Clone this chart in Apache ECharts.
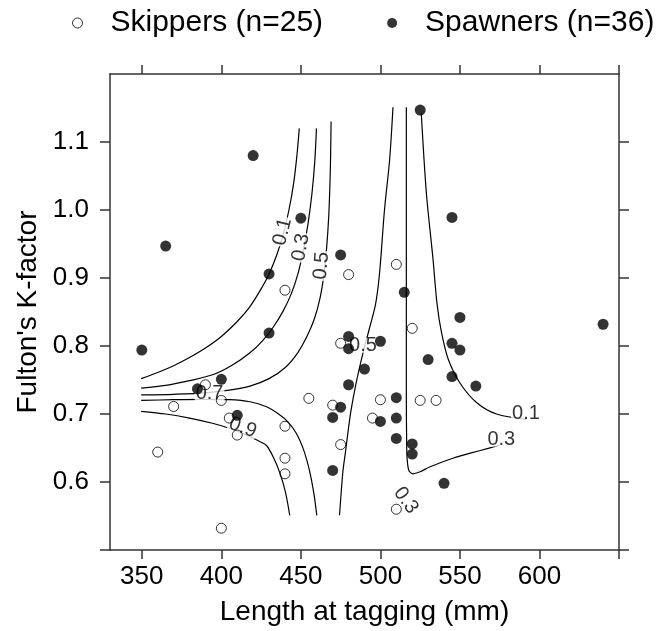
<!DOCTYPE html>
<html>
<head>
<meta charset="utf-8">
<script src="https://cdn.jsdelivr.net/npm/echarts@6/dist/echarts.min.js"></script>
<style>
  html, body { margin: 0; padding: 0; background: #fff; }
  #chart { width: 657px; height: 631px; }
</style>
</head>
<body>
<div id="chart"></div>
<script>
// Axis ticks and labelled values
const xTicks = [350, 400, 450, 500, 550, 600, 650];
const xLabels = [350, 400, 450, 500, 550, 600];
const yTicks = [0.5, 0.6, 0.7, 0.8, 0.9, 1.0, 1.1];
const yLabels = [0.6, 0.7, 0.8, 0.9, 1.0, 1.1];

// Fish measurements: [length at tagging (mm), Fulton's K]
const skippers = [
  [440, 0.882], [480, 0.905], [510, 0.920], [475, 0.804], [390, 0.743],
  [400, 0.720], [370, 0.711], [455, 0.723], [470, 0.713], [500, 0.721],
  [495, 0.694], [405, 0.694], [410, 0.669], [440, 0.682], [440, 0.635],
  [440, 0.612], [360, 0.644], [475, 0.655], [400, 0.532], [520, 0.826],
  [525, 0.720], [535, 0.720], [510, 0.560]
];
const spawners = [
  [420, 1.080], [365, 0.947], [450, 0.988], [430, 0.906], [475, 0.934],
  [525, 1.147], [545, 0.989], [515, 0.879], [430, 0.819], [350, 0.794],
  [480, 0.814], [480, 0.796], [500, 0.807], [490, 0.766], [480, 0.743],
  [400, 0.751], [385, 0.737], [475, 0.710], [470, 0.695], [500, 0.689],
  [410, 0.698], [470, 0.617], [550, 0.842], [640, 0.832], [545, 0.804],
  [550, 0.794], [530, 0.780], [545, 0.755], [560, 0.741], [510, 0.724],
  [510, 0.694], [510, 0.664], [520, 0.656], [520, 0.641], [540, 0.598]
];

// Probability contour traces (probability of skipping)
const contour01Left = [[349.6,0.752],[360,0.761],[370,0.771],[380,0.783],[390,0.797],[400,0.814],[410,0.836],[418,0.858],[425,0.884],[430,0.906],[435,0.935],[439,0.965],[442.5,1.0],[445.5,1.04],[447.5,1.08],[449,1.12]];
const contour03Left = [[349.6,0.738],[365,0.742],[380,0.749],[395,0.758],[407,0.772],[418,0.79],[426,0.808],[433,0.829],[439,0.852],[444,0.877],[448,0.905],[451.5,0.94],[454.5,0.98],[457,1.025],[458.7,1.07],[459.8,1.12]];
const contour05Left = [[349.6,0.728],[370,0.729],[390,0.731],[405,0.735],[418,0.741],[430,0.752],[440,0.768],[448,0.79],[454,0.815],[458.5,0.84],[462,0.87],[464.5,0.905],[466.2,0.945],[467.5,0.99],[468.3,1.04],[468.7,1.08],[469,1.13]];
const contour07 = [[349.6,0.720],[370,0.721],[390,0.7215],[405,0.721],[418,0.718],[428,0.711],[436,0.700],[442,0.688],[447,0.672],[451,0.652],[454,0.630],[456.5,0.605],[458.5,0.578],[460,0.551]];
const contour09 = [[349.6,0.704],[365,0.700],[380,0.694],[395,0.686],[405,0.679],[415,0.670],[422,0.662],[428.2,0.654],[433,0.635],[437,0.612],[440.3,0.585],[443,0.551]];
const contour05Mid = [[507.9,1.151],[505.8,1.074],[502.6,1.001],[499.5,0.908],[497,0.862],[493,0.825],[489,0.789],[484.8,0.746],[481.5,0.705],[479.6,0.673],[477.8,0.640],[476.4,0.615],[474.3,0.551]];
const contour03Right = [[516.3,1.151],[516.3,1.0],[516.3,0.854],[516.3,0.722],[516.5,0.66],[516.8,0.634],[517.9,0.617],[520.4,0.612],[525,0.615],[530.9,0.622],[545.6,0.635],[562.3,0.646],[574.9,0.654]];
const contour01Right = [[525.7,1.142],[528.9,1.025],[533.1,0.927],[535.6,0.862],[538.4,0.820],[542.6,0.781],[549.9,0.746],[560.4,0.717],[573.0,0.700],[591.8,0.692]];

// Contour label anchors: [x, y, text, rotation]
const contourLabels = [
  [438.5, 0.968, '0.1', 76], [450, 0.945, '0.3', 79], [463, 0.918, '0.5', 85],
  [489, 0.801, '0.5', 0], [392.6, 0.730, '0.7', 0], [413.5, 0.680, '0.9', -20],
  [591.5, 0.701, '0.1', 0], [576, 0.663, '0.3', 0], [516, 0.573, '0.3', -55]
];

const FONT = 'Liberation Sans, Arial, sans-serif';
const AXIS_COLOR = '#333';

function contourSeries(data) {
  return {
    type: 'line', data: data, smooth: 0.3, showSymbol: false, silent: true,
    lineStyle: { color: '#000', width: 1.2 }, z: 2
  };
}

const chart = echarts.init(document.getElementById('chart'), null, { renderer: 'canvas' });

const axisLine = { show: true, lineStyle: { color: AXIS_COLOR, width: 1.5 } };
const tickStyle = { color: AXIS_COLOR, width: 1.5 };

chart.setOption({
  animation: false,
  backgroundColor: '#fff',
  textStyle: { fontFamily: FONT },
  grid: { left: 110, top: 74, width: 509, height: 477, show: false },
  legend: {
    left: 72, top: 8, padding: 0, itemGap: 64, itemWidth: 10, itemHeight: 10,
    formatter: n => '{t|' + n + '}',
    textStyle: { rich: { t: { fontSize: 30, fontFamily: FONT, color: '#000', padding: [0, 0, 0, 23] } } },
    data: [
      { name: 'Skippers (n=25)', icon: 'circle', itemStyle: { color: '#fff', borderColor: '#000', borderWidth: 1 } },
      { name: 'Spawners (n=36)', icon: 'circle', itemStyle: { color: '#000' } }
    ]
  },
  xAxis: [
    {
      type: 'value', min: 330, max: 650, position: 'bottom',
      axisLine: axisLine, splitLine: { show: false },
      name: 'Length at tagging (mm)', nameLocation: 'middle', nameGap: 48,
      nameTextStyle: { fontSize: 28, color: '#000', fontFamily: FONT },
      axisTick: { show: true, inside: false, length: 9, customValues: xTicks, lineStyle: tickStyle },
      axisLabel: { show: true, customValues: xLabels, fontSize: 26, color: '#000', margin: 14, fontFamily: FONT }
    },
    {
      type: 'value', min: 330, max: 650, position: 'top',
      axisLine: axisLine, splitLine: { show: false },
      axisTick: { show: true, inside: false, length: 9, customValues: xTicks, lineStyle: tickStyle },
      axisLabel: { show: false }
    }
  ],
  yAxis: [
    {
      type: 'value', min: 0.5, max: 1.2, position: 'left',
      axisLine: axisLine, splitLine: { show: false },
      name: "Fulton's K-factor", nameLocation: 'middle', nameGap: 68,
      nameTextStyle: { fontSize: 28, color: '#000', fontFamily: FONT },
      axisTick: { show: true, inside: false, length: 10, customValues: yTicks, lineStyle: tickStyle },
      axisLabel: { show: true, customValues: yLabels, fontSize: 26, color: '#000', margin: 21, fontFamily: FONT,
                   formatter: v => v.toFixed(1) }
    },
    {
      type: 'value', min: 0.5, max: 1.2, position: 'right',
      axisLine: axisLine, splitLine: { show: false },
      axisTick: { show: true, inside: false, length: 10, customValues: yTicks, lineStyle: tickStyle },
      axisLabel: { show: false }
    }
  ],
  series: [
    contourSeries(contour01Left), contourSeries(contour03Left), contourSeries(contour05Left),
    contourSeries(contour07), contourSeries(contour09), contourSeries(contour05Mid),
    contourSeries(contour03Right), contourSeries(contour01Right),
    {
      type: 'scatter', silent: true, symbol: 'circle', symbolSize: 1, z: 3,
      itemStyle: { color: 'rgba(0,0,0,0)' },
      data: contourLabels.map(d => ({
        value: [d[0], d[1]],
        label: { show: true, position: 'inside', formatter: d[2], rotate: d[3] }
      })),
      label: { show: true, fontSize: 20, color: '#000', fontFamily: FONT, backgroundColor: '#fff', lineHeight: 15, padding: [0, 1] }
    },
    {
      name: 'Skippers (n=25)', type: 'scatter', data: skippers, symbol: 'circle', symbolSize: 10, z: 4,
      itemStyle: { color: 'rgba(0,0,0,0)', borderColor: '#000', borderWidth: 1 }
    },
    {
      name: 'Spawners (n=36)', type: 'scatter', data: spawners, symbol: 'circle', symbolSize: 11, z: 5,
      itemStyle: { color: '#000' }
    }
  ]
});
</script>
</body>
</html>
